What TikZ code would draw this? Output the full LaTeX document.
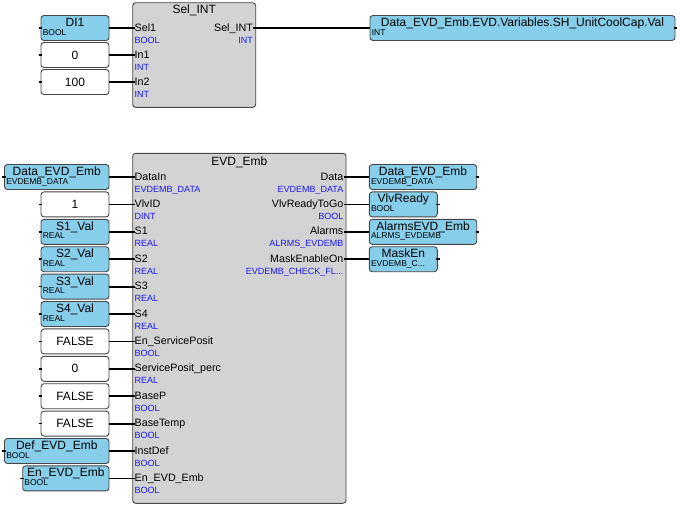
\documentclass[tikz,border=0pt]{standalone}
\usepackage{fontspec}
\setmainfont{Liberation Sans}
\usetikzlibrary{calc}
\definecolor{blockgray}{RGB}{211, 211, 211}
\definecolor{varblue}{RGB}{135, 206, 235}
\definecolor{typeblue}{RGB}{25, 25, 240}
\definecolor{edgegray}{RGB}{70, 70, 70}

\begin{document}
\begin{tikzpicture}[
    x=1pt, y=-1pt,
    fblock/.style={draw=edgegray, fill=blockgray, rounded corners=3pt, line width=0.9pt, inner sep=0},
    varbox/.style={draw=edgegray, fill=varblue, rounded corners=3pt, line width=0.9pt, minimum height=25pt, inner sep=0},
    constbox/.style={draw=edgegray, fill=white, rounded corners=3pt, line width=0.9pt, minimum width=68pt, minimum height=25pt, inner sep=0, font=\fontsize{12}{14}\selectfont},
    blocktitle/.style={anchor=base, inner sep=0, font=\fontsize{12}{14}\selectfont},
    boxname/.style={anchor=base, inner sep=0, font=\fontsize{12}{14}\selectfont},
    boxtype/.style={anchor=base west, inner sep=0, font=\fontsize{8.5}{10}\selectfont},
    pinin/.style={anchor=base west, inner sep=0, font=\fontsize{10.7}{12}\selectfont},
    pinout/.style={anchor=base east, inner sep=0, font=\fontsize{10.7}{12}\selectfont},
    typein/.style={anchor=base west, inner sep=0, text=typeblue, font=\fontsize{9}{10}\selectfont},
    typeout/.style={anchor=base east, inner sep=0, text=typeblue, font=\fontsize{9}{10}\selectfont},
    wire/.style={line width=1.8pt},
    stub/.style={line width=1.6pt}
]
\useasboundingbox (0,0) rectangle (680,515);

% Sel_INT block
\node[fblock, minimum width=123pt, minimum height=104.6pt] (selint) at (194.2,55) {};
\node[blocktitle] (selint-title) at (194.2,13) {Sel\_INT};

\coordinate (selint-sel1) at (135,28);
\coordinate (selint-in1) at (135,55);
\coordinate (selint-in2) at (135,82);
\coordinate (selint-out) at (253,28);

\node[pinin] (selint-sel1-n) at (134.5,31) {Sel1};
\node[typein] (selint-sel1-t) at (134.5,43) {BOOL};
\node[pinin] (selint-in1-n) at (134.5,58) {In1};
\node[typein] (selint-in1-t) at (134.5,70) {INT};
\node[pinin] (selint-in2-n) at (134.5,85) {In2};
\node[typein] (selint-in2-t) at (134.5,97) {INT};
\node[pinout] (selint-out-n) at (253,31) {Sel\_INT};
\node[typeout] (selint-out-t) at (253,43) {INT};

% Sel_INT inputs
\node[varbox, minimum width=68pt] (di1) at (75,28) {};
\node[boxname] (di1-n) at ($(di1)+(0,-1.5)$) {DI1};
\node[boxtype] (di1-t) at ($(di1.west)+(2,7)$) {BOOL};
\node[constbox] (sel-c0) at (75,55) {0};
\node[constbox] (sel-c100) at (75,82) {100};

% Sel_INT output
\node[varbox, minimum width=305pt] (coolcap) at (522.5,28) {};
\node[boxname] (coolcap-n) at ($(coolcap)+(0,-1.5)$) {Data\_EVD\_Emb.EVD.Variables.SH\_UnitCoolCap.Val};
\node[boxtype] (coolcap-t) at ($(coolcap.west)+(2,7)$) {INT};

% Sel_INT wires
\draw[wire] (di1.east) -- (selint-sel1);
\draw[wire] (sel-c0.east) -- (selint-in1);
\draw[wire] (sel-c100.east) -- (selint-in2);
\draw[wire] (selint-out) -- (coolcap.west);

\draw[stub] ($(di1.west)+(-2,0)$) -- ($(di1.west)+(1.5,0)$);
\draw[stub] ($(sel-c0.west)+(-2,0)$) -- ($(sel-c0.west)+(1.5,0)$);
\draw[stub] ($(sel-c100.west)+(-2,0)$) -- ($(sel-c100.west)+(1.5,0)$);
\draw[stub] ($(coolcap.east)+(-1.5,0)$) -- ($(coolcap.east)+(2,0)$);

% EVD_Emb block
\node[fblock, minimum width=213.3pt, minimum height=350pt] (evd) at (239.35,328.3) {};
\node[blocktitle] (evd-title) at (239.35,165) {EVD\_Emb};

% EVD_Emb input pins
\coordinate (evd-datain) at (135,177);
\coordinate (evd-vlvid) at (135,204.4);
\coordinate (evd-s1) at (135,231.8);
\coordinate (evd-s2) at (135,259.2);
\coordinate (evd-s3) at (135,286.6);
\coordinate (evd-s4) at (135,314);
\coordinate (evd-ensrv) at (135,341.4);
\coordinate (evd-srvperc) at (135,368.8);
\coordinate (evd-basep) at (135,396.2);
\coordinate (evd-basetemp) at (135,423.6);
\coordinate (evd-instdef) at (135,451);
\coordinate (evd-enevd) at (135,478.4);

\node[pinin] (evd-datain-n) at (134.5,180) {DataIn};
\node[typein] (evd-datain-t) at (134.5,192) {EVDEMB\_DATA};
\node[pinin] (evd-vlvid-n) at (134.5,207.4) {VlvID};
\node[typein] (evd-vlvid-t) at (134.5,219.4) {DINT};
\node[pinin] (evd-s1-n) at (134.5,234.8) {S1};
\node[typein] (evd-s1-t) at (134.5,246.8) {REAL};
\node[pinin] (evd-s2-n) at (134.5,262.2) {S2};
\node[typein] (evd-s2-t) at (134.5,274.2) {REAL};
\node[pinin] (evd-s3-n) at (134.5,289.6) {S3};
\node[typein] (evd-s3-t) at (134.5,301.6) {REAL};
\node[pinin] (evd-s4-n) at (134.5,317) {S4};
\node[typein] (evd-s4-t) at (134.5,329) {REAL};
\node[pinin] (evd-ensrv-n) at (134.5,344.4) {En\_ServicePosit};
\node[typein] (evd-ensrv-t) at (134.5,356.4) {BOOL};
\node[pinin] (evd-srvperc-n) at (134.5,371.8) {ServicePosit\_perc};
\node[typein] (evd-srvperc-t) at (134.5,383.8) {REAL};
\node[pinin] (evd-basep-n) at (134.5,399.2) {BaseP};
\node[typein] (evd-basep-t) at (134.5,411.2) {BOOL};
\node[pinin] (evd-basetemp-n) at (134.5,426.6) {BaseTemp};
\node[typein] (evd-basetemp-t) at (134.5,438.6) {BOOL};
\node[pinin] (evd-instdef-n) at (134.5,454) {InstDef};
\node[typein] (evd-instdef-t) at (134.5,466) {BOOL};
\node[pinin] (evd-enevd-n) at (134.5,481.4) {En\_EVD\_Emb};
\node[typein] (evd-enevd-t) at (134.5,493.4) {BOOL};

% EVD_Emb output pins
\coordinate (evd-data) at (344,177);
\coordinate (evd-ready) at (344,204.4);
\coordinate (evd-alarms) at (344,231.8);
\coordinate (evd-mask) at (344,259.2);

\node[pinout] (evd-data-n) at (343.5,180) {Data};
\node[typeout] (evd-data-t) at (343.5,192) {EVDEMB\_DATA};
\node[pinout] (evd-ready-n) at (343.5,207.4) {VlvReadyToGo};
\node[typeout] (evd-ready-t) at (343.5,219.4) {BOOL};
\node[pinout] (evd-alarms-n) at (343.5,234.8) {Alarms};
\node[typeout] (evd-alarms-t) at (343.5,246.8) {ALRMS\_EVDEMB};
\node[pinout] (evd-mask-n) at (343.5,262.2) {MaskEnableOn};
\node[typeout] (evd-mask-t) at (343.5,274.2) {EVDEMB\_CHECK\_FL...};

% EVD_Emb inputs
\node[varbox, minimum width=104.5pt] (datain) at (56.75,177) {};
\node[boxname] (datain-n) at ($(datain)+(0,-1.5)$) {Data\_EVD\_Emb};
\node[boxtype] (datain-t) at ($(datain.west)+(2,7)$) {EVDEMB\_DATA};
\node[constbox] (vlvid) at (75,204.4) {1};
\node[varbox, minimum width=68pt] (s1val) at (75,231.8) {};
\node[boxname] (s1val-n) at ($(s1val)+(0,-1.5)$) {S1\_Val};
\node[boxtype] (s1val-t) at ($(s1val.west)+(2,7)$) {REAL};
\node[varbox, minimum width=68pt] (s2val) at (75,259.2) {};
\node[boxname] (s2val-n) at ($(s2val)+(0,-1.5)$) {S2\_Val};
\node[boxtype] (s2val-t) at ($(s2val.west)+(2,7)$) {REAL};
\node[varbox, minimum width=68pt] (s3val) at (75,286.6) {};
\node[boxname] (s3val-n) at ($(s3val)+(0,-1.5)$) {S3\_Val};
\node[boxtype] (s3val-t) at ($(s3val.west)+(2,7)$) {REAL};
\node[varbox, minimum width=68pt] (s4val) at (75,314) {};
\node[boxname] (s4val-n) at ($(s4val)+(0,-1.5)$) {S4\_Val};
\node[boxtype] (s4val-t) at ($(s4val.west)+(2,7)$) {REAL};
\node[constbox] (ensrv) at (75,341.4) {FALSE};
\node[constbox] (srvperc) at (75,368.8) {0};
\node[constbox] (basep) at (75,396.2) {FALSE};
\node[constbox] (basetemp) at (75,423.6) {FALSE};
\node[varbox, minimum width=104.5pt] (defevd) at (56.75,451) {};
\node[boxname] (defevd-n) at ($(defevd)+(0,-1.5)$) {Def\_EVD\_Emb};
\node[boxtype] (defevd-t) at ($(defevd.west)+(2,7)$) {BOOL};
\node[varbox, minimum width=86.3pt] (enevd) at (65.85,478.4) {};
\node[boxname] (enevd-n) at ($(enevd)+(0,-1.5)$) {En\_EVD\_Emb};
\node[boxtype] (enevd-t) at ($(enevd.west)+(2,7)$) {BOOL};

% EVD_Emb outputs
\node[varbox, minimum width=107.4pt] (dataout) at (423,177) {};
\node[boxname] (dataout-n) at ($(dataout)+(0,-1.5)$) {Data\_EVD\_Emb};
\node[boxtype] (dataout-t) at ($(dataout.west)+(2,7)$) {EVDEMB\_DATA};
\node[varbox, minimum width=68pt] (vlvready) at (403.3,204.4) {};
\node[boxname] (vlvready-n) at ($(vlvready)+(0,-1.5)$) {VlvReady};
\node[boxtype] (vlvready-t) at ($(vlvready.west)+(2,7)$) {BOOL};
\node[varbox, minimum width=107.4pt] (alarms) at (423,231.8) {};
\node[boxname] (alarms-n) at ($(alarms)+(0,-1.5)$) {AlarmsEVD\_Emb};
\node[boxtype] (alarms-t) at ($(alarms.west)+(2,7)$) {ALRMS\_EVDEMB};
\node[varbox, minimum width=68pt] (masken) at (403.3,259.2) {};
\node[boxname] (masken-n) at ($(masken)+(0,-1.5)$) {MaskEn};
\node[boxtype] (masken-t) at ($(masken.west)+(2,7)$) {EVDEMB\_C...};

% EVD_Emb wires
\draw[wire] (datain.east) -- (evd-datain);
\draw[wire] (vlvid.east) -- (evd-vlvid);
\draw[wire] (s1val.east) -- (evd-s1);
\draw[wire] (s2val.east) -- (evd-s2);
\draw[wire] (s3val.east) -- (evd-s3);
\draw[wire] (s4val.east) -- (evd-s4);
\draw[wire] (ensrv.east) -- (evd-ensrv);
\draw[wire] (srvperc.east) -- (evd-srvperc);
\draw[wire] (basep.east) -- (evd-basep);
\draw[wire] (basetemp.east) -- (evd-basetemp);
\draw[wire] (defevd.east) -- (evd-instdef);
\draw[wire] (enevd.east) -- (evd-enevd);
\draw[wire] (evd-data) -- (dataout.west);
\draw[wire] (evd-ready) -- (vlvready.west);
\draw[wire] (evd-alarms) -- (alarms.west);
\draw[wire] (evd-mask) -- (masken.west);

% Pin stubs
\draw[stub] ($(datain.west)+(-2,0)$) -- ($(datain.west)+(1.5,0)$);
\draw[stub] ($(vlvid.west)+(-2,0)$) -- ($(vlvid.west)+(1.5,0)$);
\draw[stub] ($(s1val.west)+(-2,0)$) -- ($(s1val.west)+(1.5,0)$);
\draw[stub] ($(s2val.west)+(-2,0)$) -- ($(s2val.west)+(1.5,0)$);
\draw[stub] ($(s3val.west)+(-2,0)$) -- ($(s3val.west)+(1.5,0)$);
\draw[stub] ($(s4val.west)+(-2,0)$) -- ($(s4val.west)+(1.5,0)$);
\draw[stub] ($(ensrv.west)+(-2,0)$) -- ($(ensrv.west)+(1.5,0)$);
\draw[stub] ($(srvperc.west)+(-2,0)$) -- ($(srvperc.west)+(1.5,0)$);
\draw[stub] ($(basep.west)+(-2,0)$) -- ($(basep.west)+(1.5,0)$);
\draw[stub] ($(basetemp.west)+(-2,0)$) -- ($(basetemp.west)+(1.5,0)$);
\draw[stub] ($(defevd.west)+(-2,0)$) -- ($(defevd.west)+(1.5,0)$);
\draw[stub] ($(enevd.west)+(-2,0)$) -- ($(enevd.west)+(1.5,0)$);
\draw[stub] ($(dataout.east)+(-1.5,0)$) -- ($(dataout.east)+(2,0)$);
\draw[stub] ($(vlvready.east)+(-1.5,0)$) -- ($(vlvready.east)+(2,0)$);
\draw[stub] ($(alarms.east)+(-1.5,0)$) -- ($(alarms.east)+(2,0)$);
\draw[stub] ($(masken.east)+(-1.5,0)$) -- ($(masken.east)+(2,0)$);

\end{tikzpicture}
\end{document}
